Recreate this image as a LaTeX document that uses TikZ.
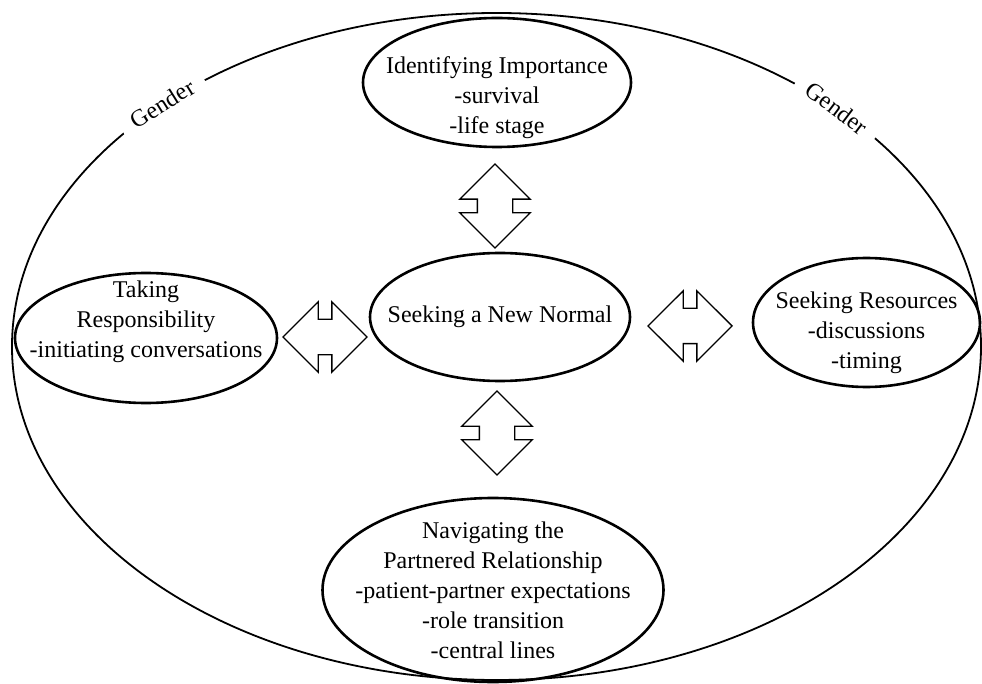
\documentclass[tikz,border=0pt]{standalone}
\usepackage{fontspec}
\setmainfont{Liberation Serif}
\usetikzlibrary{positioning,calc,shapes.geometric,shapes.arrows}
\tikzset{font=\fontsize{24}{30}\selectfont}
\tikzset{
	oval/.style={ellipse, draw, line width=2.6pt, inner sep=0pt},
	txt/.style={align=center, inner sep=0pt},
	dblarrow/.style={double arrow, draw, line width=1.4pt, inner xsep=0pt, inner ysep=17pt,
		minimum height=84pt, double arrow head extend=17.5pt},
	ringlabel/.style={fill=white, inner xsep=13pt, inner ysep=2pt}
}

\begin{document}
\begin{tikzpicture}[x=1pt, y=-1pt]
	\useasboundingbox (0,0) rectangle (982,684);
	\begin{scope}
		% outer ring
		\node [ellipse, draw, line width=1.8pt, minimum width=969, minimum height=667] (gender) at (496.5,346.5) {};
		\node [ringlabel, rotate=32] (gl) at (gender.144) {Gender};
		\node [ringlabel, rotate=-37] (gr) at (gender.35) {Gender};

		% themes
		\node [oval, minimum width=268, minimum height=129,
			label={[txt, yshift=-15pt]center:{Identifying Importance\\-survival\\-life stage}}] (idimp) at (497,82.5) {};
		\node [oval, minimum width=260, minimum height=128,
			label={[txt]center:{Seeking a New Normal}}] (snn) at (500,317) {};
		\node [oval, minimum width=262, minimum height=130,
			label={[txt, yshift=16pt]center:{Taking\\Responsibility\\-initiating conversations}}] (takr) at (146,338) {};
		\node [oval, minimum width=227, minimum height=129,
			label={[txt, yshift=-10pt]center:{Seeking Resources\\-discussions\\-timing}}] (seekr) at (866.5,322.5) {};
		\node [oval, minimum width=341, minimum height=184,
			label={[txt]center:{Navigating the\\Partnered Relationship\\-patient-partner expectations\\-role transition\\-central lines}}] (navpr) at (493,590) {};

		% links
		\node [dblarrow, rotate=90] (arrn) at (495,206) {};
		\node [dblarrow, rotate=90] (arrs) at (497,433) {};
		\node [dblarrow] (arrw) at (325,337) {};
		\node [dblarrow] (arre) at (690,326) {};
	\end{scope}
\end{tikzpicture}
\end{document}
